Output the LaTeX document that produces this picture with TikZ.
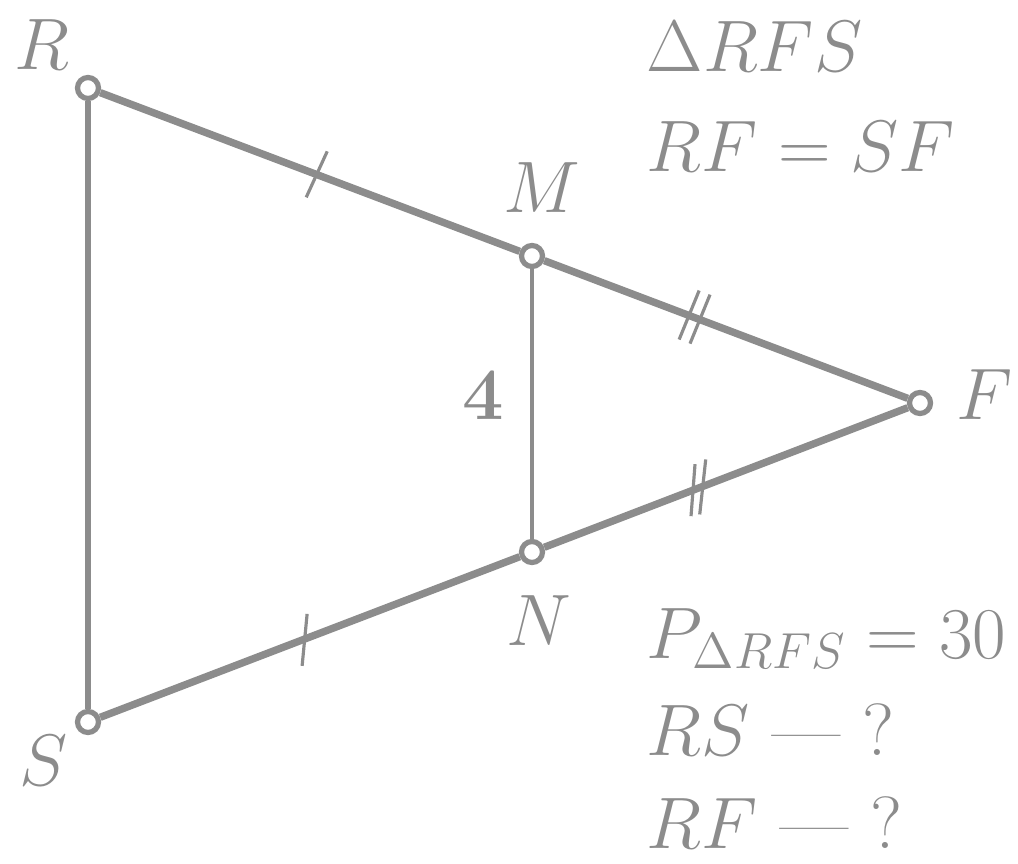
\documentclass[tikz,border=0pt]{standalone}
\usepackage{tikz}
\usetikzlibrary{calc}
\definecolor{ink}{RGB}{140,140,140}

\begin{document}
\begin{tikzpicture}[x=0.01cm, y=-0.01cm,
    pt/.style={circle, draw=ink, fill=white, line width=1.5pt, minimum size=0.21cm, inner sep=0pt},
    side/.style={draw=ink, line width=2.1pt},
    thinside/.style={draw=ink, line width=1.5pt},
    midline/.style={draw=ink, line width=1pt},
    tick/.style={draw=ink, line width=0.9pt},
    lbl/.style={anchor=base west, inner sep=0pt, text=ink, font=\fontsize{21.5}{26}\selectfont},
    note/.style={anchor=base west, inner sep=0pt, text=ink, font=\fontsize{21}{26}\selectfont}
]
\useasboundingbox (0,0) rectangle (1018,864);

% vertices
\node[pt] (R) at (88,88) {};
\node[pt] (S) at (88,722) {};
\node[pt] (F) at (920,403) {};
\node[pt] (M) at (532,256) {};
\node[pt] (N) at (532,552) {};

% sides
\draw[thinside] (R) -- (S);
\draw[side] (R) -- (M);
\draw[side] (M) -- (F);
\draw[side] (S) -- (N);
\draw[side] (N) -- (F);
\draw[midline] (M) -- (N);

% equal marks
\draw[tick] ($(R)!0.514!(M)$) ++(11,-23) -- ++(-21,46);
\draw[tick] ($(S)!0.489!(N)$) ++(2,-25) -- ++(-5,52);
\draw[tick] ($(M)!0.405!(F)$) ++(10,-25) -- ++(-20,49);
\draw[tick] ($(M)!0.433!(F)$) ++(10,-25) -- ++(-20,49);
\draw[tick] ($(N)!0.415!(F)$) ++(2,-26) -- ++(-4,52);
\draw[tick] ($(N)!0.440!(F)$) ++(3,-27) -- ++(-6,55);

% vertex labels
\node[lbl] (lR) at (14,70) {$R$};
\node[lbl] (lM) at (503,213) {$M$};
\node[lbl] (lF) at (956,420) {$F$};
\node[lbl] (lN) at (506,645) {$N$};
\node[lbl] (lS) at (19,785) {$S$};
\node[note] (l4) at (462,420) {\bfseries 4};

% given / find
\node[note] (given1) at (646,72) {$\Delta RFS$};
\node[note] (given2) at (646,172) {$RF = SF$};
\node[note] (given3) at (646,658) {$P_{\Delta RFS} = 30$};
\node[note] (find1) at (646,755) {$RS$ --- ?};
\node[note] (find2) at (646,848) {$RF$ --- ?};
\end{tikzpicture}
\end{document}
